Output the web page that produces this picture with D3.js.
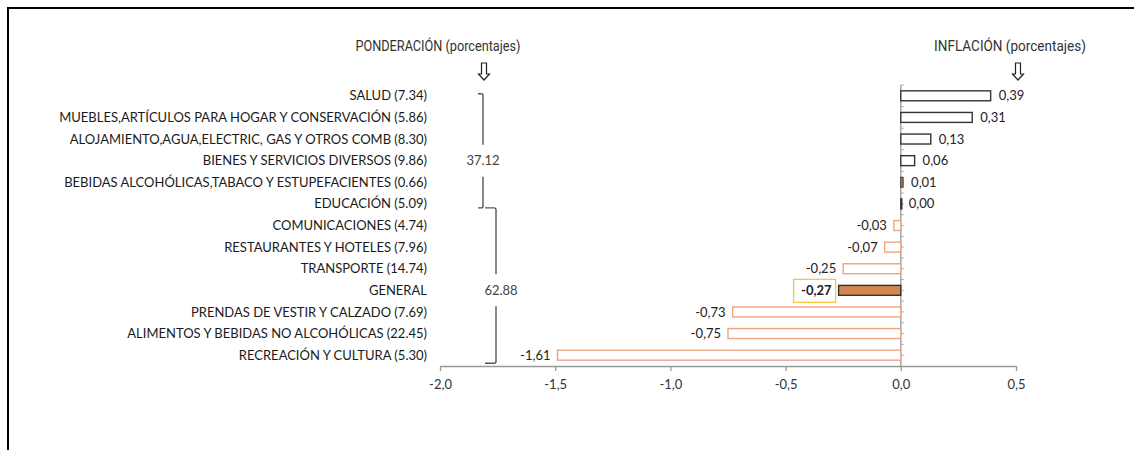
<!DOCTYPE html>
<html>
<head>
<meta charset="utf-8">
<script src="https://cdn.jsdelivr.net/npm/d3@7"></script>
<style>
  body { margin: 0; background: #fff; }
  svg { display: block; }
</style>
</head>
<body>
<svg id="chart" width="1134" height="450"></svg>
<script>
// Categories (top to bottom), their weights and inflation values.
const categories = [
  "SALUD",
  "MUEBLES,ARTÍCULOS PARA HOGAR Y CONSERVACIÓN",
  "ALOJAMIENTO,AGUA,ELECTRIC, GAS Y OTROS COMB",
  "BIENES Y SERVICIOS DIVERSOS",
  "BEBIDAS ALCOHÓLICAS,TABACO Y ESTUPEFACIENTES",
  "EDUCACIÓN",
  "COMUNICACIONES",
  "RESTAURANTES Y HOTELES",
  "TRANSPORTE",
  "GENERAL",
  "PRENDAS DE VESTIR Y CALZADO",
  "ALIMENTOS Y BEBIDAS NO ALCOHÓLICAS",
  "RECREACIÓN Y CULTURA"
];
const weights = ["7.34", "5.86", "8.30", "9.86", "0.66", "5.09", "4.74", "7.96", "14.74", null, "7.69", "22.45", "5.30"];
// Bar lengths as drawn in the source (the last bar is drawn shorter than its label says).
const inflation = [0.39, 0.31, 0.13, 0.06, 0.01, 0.00, -0.03, -0.07, -0.25, -0.27, -0.73, -0.75, -1.49];
// Data labels as printed next to the bars.
const valueLabels = ["0,39", "0,31", "0,13", "0,06", "0,01", "0,00", "-0,03", "-0,07", "-0,25", "-0,27", "-0,73", "-0,75", "-1,61"];

// Group totals of the weights (first six rows, last seven rows).
const groupTotals = ["37.12", "62.88"];
const groupRows = [[0, 5], [6, 12]];

const xTicks = [-2.0, -1.5, -1.0, -0.5, 0.0, 0.5];
const xTickLabels = ["-2,0", "-1,5", "-1,0", "-0,5", "0,0", "0,5"];

const svg = d3.select("#chart");
const labelFont = "Lato, 'Open Sans', sans-serif";

// Frame around the figure (top and left edges).
svg.append("path")
  .attr("d", "M8,450 L8,8 L1134,8")
  .attr("fill", "none")
  .attr("stroke", "#000")
  .attr("stroke-width", 2);

// Scales.
const x = d3.scaleLinear().domain([-2, 0.5]).range([440, 1016]);
const y = d3.scaleBand()
  .domain(categories)
  .range([85, 366])
  .paddingInner(0.54)
  .paddingOuter(0.27);
const cy = c => y(c) + y.bandwidth() / 2;

// Horizontal axis.
const xAxis = svg.append("g")
  .attr("transform", "translate(0,366)")
  .call(d3.axisBottom(x).tickValues(xTicks).tickSize(5).tickSizeOuter(0)
    .tickFormat((d, i) => xTickLabels[i]));
xAxis.select(".domain").attr("stroke", "#999").attr("stroke-width", 1.3);
xAxis.selectAll(".tick line").attr("stroke", "#999").attr("stroke-width", 1.3);
xAxis.selectAll(".tick text")
  .attr("y", 14)
  .attr("dy", "0.71em")
  .attr("fill", "#333")
  .style("font-family", labelFont)
  .style("font-size", "13px");

// Vertical axis at zero with small ticks at band edges and centres.
svg.append("line")
  .attr("x1", x(0)).attr("x2", x(0))
  .attr("y1", 85).attr("y2", 366)
  .attr("stroke", "#999").attr("stroke-width", 1.3);
const tickYs = [];
categories.forEach(c => {
  tickYs.push(y(c) - y.step() * 0.27);
  tickYs.push(cy(c));
});
svg.append("g").selectAll("line")
  .data(tickYs)
  .enter()
  .append("line")
  .attr("x1", x(0)).attr("x2", x(0) + 3)
  .attr("y1", d => d).attr("y2", d => d)
  .attr("stroke", "#aaa").attr("stroke-width", 1);

// Bars.
const rows = categories.map((c, i) => ({
  name: c, weight: weights[i], value: inflation[i], label: valueLabels[i]
}));
svg.append("g").selectAll("rect")
  .data(rows)
  .enter()
  .append("rect")
  .attr("x", d => x(Math.min(0, d.value)))
  .attr("y", d => y(d.name))
  .attr("width", d => Math.max(1, Math.abs(x(d.value) - x(0))))
  .attr("height", y.bandwidth())
  .attr("fill", d => {
    if (d.name === "GENERAL") return "#D4874F";
    if (d.value > 0 && d.value < 0.02) return "#D4874F";
    return "#fff";
  })
  .attr("stroke", d => {
    if (d.name === "GENERAL") return "#333";
    return d.value >= 0 ? "#333" : "#E9A682";
  })
  .attr("stroke-width", d => d.value > 0 && d.value < 0.02 ? 1 : 1.4);

// Value labels.
svg.append("g").selectAll("text")
  .data(rows)
  .enter()
  .append("text")
  .attr("x", d => d.value >= 0 ? x(d.value) + 8 : x(d.value) - 7)
  .attr("y", d => cy(d.name))
  .attr("dy", "0.35em")
  .attr("text-anchor", d => d.value >= 0 ? "start" : "end")
  .attr("fill", "#222")
  .style("font-family", labelFont)
  .style("font-size", "13px")
  .style("font-weight", d => d.name === "GENERAL" ? "bold" : "normal")
  .text(d => d.label);

// Yellow box around the general value.
const gen = rows.find(d => d.name === "GENERAL");
svg.append("rect")
  .attr("x", x(gen.value) - 45)
  .attr("y", cy(gen.name) - 11)
  .attr("width", 42)
  .attr("height", 23)
  .attr("fill", "none")
  .attr("stroke", "#F5C842")
  .attr("stroke-width", 1.3);

// Category labels.
svg.append("g").selectAll("text")
  .data(rows)
  .enter()
  .append("text")
  .attr("x", 427)
  .attr("y", d => cy(d.name))
  .attr("dy", "0.35em")
  .attr("text-anchor", "end")
  .attr("fill", "#1a1a1a")
  .style("font-family", labelFont)
  .style("font-size", "13px")
  .text(d => d.weight ? d.name + " (" + d.weight + ")" : d.name);

// Headers and hollow arrows.
const headerFont = "'Liberation Sans Narrow', Roboto, sans-serif";
const headers = [
  { text: "PONDERACIÓN (porcentajes)", cx: 438, ax: 484 },
  { text: "INFLACIÓN (porcentajes)", cx: 1010, ax: 1018 }
];
headers.forEach(h => {
  svg.append("text")
    .attr("x", h.cx).attr("y", 51)
    .attr("text-anchor", "middle")
    .attr("fill", "#333")
    .style("font-family", headerFont)
    .style("font-size", "14px")
    .attr("textLength", h.text.length * 6.6)
    .attr("lengthAdjust", "spacingAndGlyphs")
    .text(h.text);
  const a = h.ax;
  svg.append("path")
    .attr("d", `M${a - 2.5},63 L${a + 2.5},63 L${a + 2.5},74 L${a + 5.5},74 L${a},80 L${a - 5.5},74 L${a - 2.5},74 Z`)
    .attr("fill", "#fff")
    .attr("stroke", "#222")
    .attr("stroke-width", 1.2);
});

// Brackets for the two weight groups.
const bx = [483, 496];
groupRows.forEach((g, i) => {
  const top = i === 0 ? cy(categories[g[0]]) - 2 : cy(categories[g[0] - 1]) + 4;
  const bottom = i === 0 ? cy(categories[g[1]]) + 4 : cy(categories[g[1]]) + 8;
  const mid = cy(categories[Math.round((g[0] + g[1]) / 2)]);
  const xb = bx[i];
  const left = i === 0 ? xb - 5 : xb - 11;
  svg.append("path")
    .attr("d", `M${left},${top} L${xb - 2},${top} Q${xb},${top} ${xb},${top + 2} L${xb},${mid - 16}` +
      ` M${xb},${mid + 16} L${xb},${bottom - 2} Q${xb},${bottom} ${xb - 2},${bottom} L${left},${bottom}`)
    .attr("fill", "none")
    .attr("stroke", "#555")
    .attr("stroke-width", 1.4);
  svg.append("text")
    .attr("x", xb + (i === 0 ? 0 : 5))
    .attr("y", mid)
    .attr("dy", "0.35em")
    .attr("text-anchor", "middle")
    .attr("fill", "#444")
    .style("font-family", labelFont)
    .style("font-size", "13px")
    .text(groupTotals[i]);
});
</script>
</body>
</html>
